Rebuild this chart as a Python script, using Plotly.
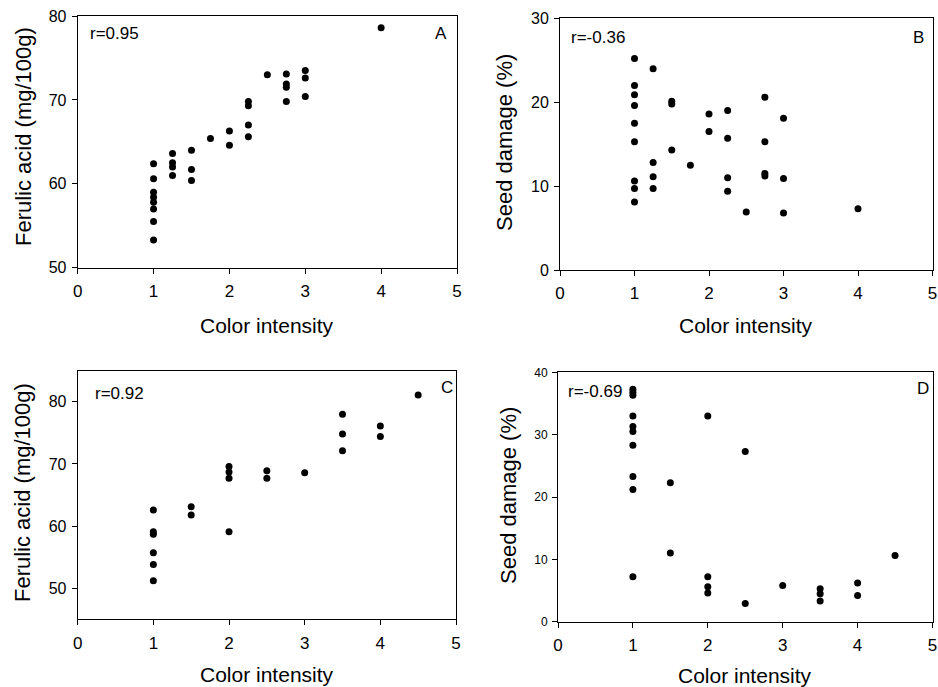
import plotly.graph_objects as go

# ---------------- data ----------------
a_x = [1, 1, 1, 1, 1, 1, 1, 1, 1.25, 1.25, 1.25, 1.25, 1.5, 1.5, 1.5, 1.75, 2, 2,
       2.25, 2.25, 2.25, 2.25, 2.5, 2.75, 2.75, 2.75, 2.75, 3, 3, 3, 4]
a_y = [62.4, 60.6, 59.0, 58.4, 57.8, 57.0, 55.5, 53.3, 63.6, 62.5, 62.0, 61.0, 64.0, 61.7, 60.4,
       65.4, 66.3, 64.6, 69.8, 69.3, 67.0, 65.6, 73.0, 73.1, 71.9, 71.5, 69.8, 73.5, 72.6, 70.4, 78.6]

b_x = [1, 1, 1, 1, 1, 1, 1, 1, 1, 1.25, 1.25, 1.25, 1.25, 1.5, 1.5, 1.5, 1.75, 2, 2,
       2.25, 2.25, 2.25, 2.25, 2.5, 2.75, 2.75, 2.75, 2.75, 3, 3, 3, 4]
b_y = [25.2, 22.0, 20.9, 19.6, 17.5, 15.3, 10.6, 9.7, 8.1, 24.0, 12.8, 11.1, 9.7, 20.1, 19.8, 14.3,
       12.5, 18.6, 16.5, 19.0, 15.7, 11.0, 9.4, 6.9, 20.6, 15.3, 11.5, 11.2, 18.1, 10.9, 6.8, 7.3]

c_x = [1, 1, 1, 1, 1, 1, 1.5, 1.5, 2, 2, 2, 2, 2.5, 2.5, 3, 3.5, 3.5, 3.5, 4, 4, 4.5]
c_y = [62.6, 59.1, 58.7, 55.7, 53.8, 51.2, 63.1, 61.8, 69.6, 68.7, 67.7, 59.1, 68.9, 67.7,
       68.6, 78.0, 74.8, 72.1, 76.1, 74.4, 81.1]

d_x = [1, 1, 1, 1, 1, 1, 1, 1, 1, 1, 1.5, 1.5, 2, 2, 2, 2, 2.5, 2.5, 3, 3.5, 3.5, 3.5, 4, 4, 4.5]
d_y = [37.3, 36.8, 36.3, 33.0, 31.3, 30.5, 28.3, 23.3, 21.2, 7.2, 22.3, 11.0, 33.0, 7.2, 5.6, 4.6,
       27.3, 2.9, 5.8, 5.3, 4.5, 3.3, 6.2, 4.2, 10.6]

x_ticks = [0, 1, 2, 3, 4, 5]
ferulic_ticks = [50, 60, 70, 80]
seed_b_ticks = [0, 10, 20, 30]
seed_d_ticks = [0, 10, 20, 30, 40]

r_labels = ["r=0.95", "r=-0.36", "r=0.92", "r=-0.69"]
panel_labels = ["A", "B", "C", "D"]
x_title = "Color intensity"
ferulic_title = "Ferulic acid (mg/100g)"
seed_title = "Seed damage (%)"

# ---------------- layout helpers ----------------
W, H = 938, 687
FONT = "Liberation Sans, Arial, Helvetica, sans-serif"


def px_x(v):
    return v / W


def px_y(v):
    return 1 - v / H


# pixel boxes (left, right, top, bottom)
boxes = [
    (77.7, 457.0, 16.0, 267.7),
    (560.0, 932.5, 18.3, 270.0),
    (77.7, 456.0, 370.7, 619.3),
    (558.0, 932.5, 372.3, 621.7),
]
yranges = [[50, 80], [0, 30], [45, 85], [0, 40]]
yticks = [ferulic_ticks, seed_b_ticks, ferulic_ticks, seed_d_ticks]
ytick_sizes = [16, 16, 16, 12]
data = [(a_x, a_y), (b_x, b_y), (c_x, c_y), (d_x, d_y)]

fig = go.Figure()
layout = dict(
    width=W, height=H,
    margin=dict(l=0, r=0, t=0, b=0, autoexpand=False),
    paper_bgcolor="white", plot_bgcolor="white",
    showlegend=False,
    font=dict(family=FONT, color="black"),
)

annotations = []
for i, ((xs, ys), box) in enumerate(zip(data, boxes)):
    n = "" if i == 0 else str(i + 1)
    fig.add_trace(go.Scatter(
        x=xs, y=ys, mode="markers",
        marker=dict(color="black", size=7, line=dict(width=0)),
        xaxis="x" + n, yaxis="y" + n,
    ))
    l, r, t, b = box
    layout["xaxis" + n] = dict(
        domain=[px_x(l), px_x(r)], anchor="y" + n, range=[0, 5],
        tickvals=x_ticks, ticks="outside", ticklen=5, tickcolor="black",
        showline=True, linecolor="black", linewidth=1, mirror=True,
        showgrid=False, zeroline=False, fixedrange=True, automargin=False,
        tickfont=dict(size=17, family=FONT), ticklabelstandoff=3,
    )
    layout["yaxis" + n] = dict(
        domain=[px_y(b), px_y(t)], anchor="x" + n, range=yranges[i],
        tickvals=yticks[i], ticks="outside", ticklen=5, tickcolor="black",
        showline=True, linecolor="black", linewidth=1, mirror=True,
        showgrid=False, zeroline=False, fixedrange=True, automargin=False,
        tickfont=dict(size=ytick_sizes[i], family=FONT), ticklabelstandoff=2,
    )

# in-panel labels
r_pos = [(88, 33), (569, 37.5), (93, 393), (566, 391)]
p_pos = [(449, 33), (926, 37), (455, 387), (931, 389)]
for i in range(4):
    annotations.append(dict(
        x=px_x(r_pos[i][0]), y=px_y(r_pos[i][1]), xref="paper", yref="paper",
        text=r_labels[i], showarrow=False, xanchor="left", yanchor="middle",
        font=dict(size=17, family=FONT),
    ))
    annotations.append(dict(
        x=px_x(p_pos[i][0]), y=px_y(p_pos[i][1]), xref="paper", yref="paper",
        text=panel_labels[i], showarrow=False, xanchor="right", yanchor="middle",
        font=dict(size=17, family=FONT),
    ))

# axis titles
x_title_pos = [(267.4, 325), (746.0, 325), (267, 674), (745.0, 675)]
for (x, y) in x_title_pos:
    annotations.append(dict(
        x=px_x(x), y=px_y(y), xref="paper", yref="paper", text=x_title,
        showarrow=False, xanchor="center", yanchor="middle",
        font=dict(size=21, family=FONT),
    ))
y_title_pos = [(23, 137, ferulic_title), (505, 142, seed_title),
               (22, 493, ferulic_title), (508, 496, seed_title)]
for (x, y, txt) in y_title_pos:
    annotations.append(dict(
        x=px_x(x), y=px_y(y), xref="paper", yref="paper", text=txt,
        showarrow=False, xanchor="center", yanchor="middle", textangle=-90,
        font=dict(size=22, family=FONT),
    ))

layout["annotations"] = annotations
fig.update_layout(**layout)
fig.write_html(
    "out.html",
    config={"displayModeBar": False},
    post_script="document.body.style.margin='0px';document.body.style.overflow='hidden';",
)
